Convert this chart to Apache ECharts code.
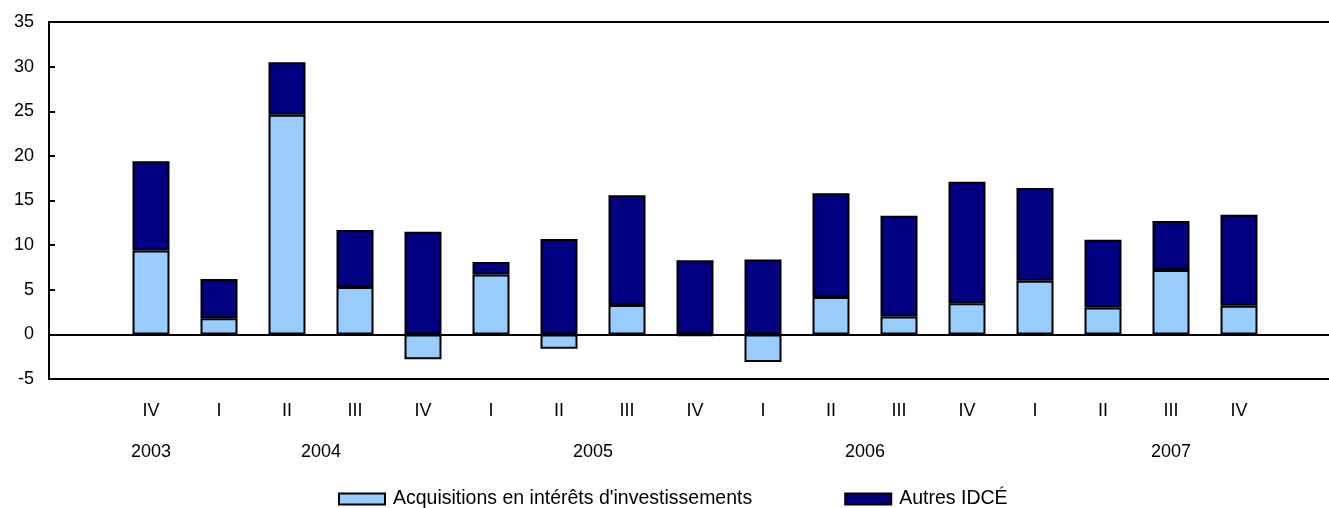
<!DOCTYPE html>
<html>
<head>
<meta charset="utf-8">
<title>IDCÉ</title>
<script src="https://cdn.jsdelivr.net/npm/echarts@6/dist/echarts.min.js"></script>
<style>
  html, body { margin: 0; padding: 0; background: #fff; overflow: hidden; }
  #chart { width: 1329px; height: 508px; }
</style>
</head>
<body>
<div id="chart"></div>
<script>
// empty slot at each end, like the original spreadsheet chart
const quarters = ['', 'IV', 'I', 'II', 'III', 'IV', 'I', 'II', 'III', 'IV', 'I', 'II', 'III', 'IV', 'I', 'II', 'III', 'IV', ''];
const years = ['', '2003', '2004', '2004', '2004', '2004', '2005', '2005', '2005', '2005',
  '2006', '2006', '2006', '2006', '2007', '2007', '2007', '2007', '2007'];
const acquisitions = [null, 9.4, 1.8, 24.6, 5.3, -2.8, 6.7, -1.6, 3.3, -0.2, -3.1, 4.2, 2.0, 3.5, 6.0, 3.0, 7.2, 3.2, null];
const autres = [null, 10.0, 4.4, 5.9, 6.4, 11.5, 1.4, 10.7, 12.3, 8.3, 8.4, 11.6, 11.3, 13.6, 10.4, 7.6, 5.5, 10.2, null];
const seriesNames = ["Acquisitions en intérêts d'investissements", 'Autres IDCÉ'];

const FONT = "'Liberation Sans', Arial, Helvetica, sans-serif";

// centre of each year's group of categories, on a 0..n scale
const yearGroups = [];
years.forEach((y, i) => {
  if (!y) return;
  const last = yearGroups[yearGroups.length - 1];
  if (last && last.year === y) last.to = i;
  else yearGroups.push({ year: y, from: i, to: i });
});
const yearCenters = yearGroups.map(g => (g.from + g.to) / 2 + 0.5);

const myChart = echarts.init(document.getElementById('chart'));

const option = {
  animation: false,
  textStyle: { fontFamily: FONT },
  // plot runs past the right edge of the picture, as in the original
  grid: {
    left: 49,
    top: 22,
    width: 1292,
    height: 357,
    outerBoundsMode: 'none',
    containLabel: false,
  },
  legend: {
    top: 484,
    left: 333,
    itemWidth: 46,
    itemHeight: 11,
    itemGap: 92,
    icon: 'rect',
    textStyle: { fontSize: 19.5, color: '#000', fontFamily: FONT, padding: [0, 0, 0, 3] },
    data: seriesNames,
  },
  xAxis: [
    {
      type: 'category',
      data: quarters,
      position: 'bottom',
      axisLine: { onZero: false, lineStyle: { color: '#000', width: 2 } },
      axisTick: { show: false },
      axisLabel: { color: '#000', fontSize: 18, margin: 23, interval: 0 },
      splitLine: { show: false },
    },
    {
      type: 'value',
      min: 0,
      max: quarters.length,
      position: 'bottom',
      axisLine: { show: false, onZero: false },
      axisTick: { show: false },
      splitLine: { show: false },
      axisLabel: {
        color: '#000',
        fontSize: 18,
        margin: 64,
        showMinLabel: true,
        showMaxLabel: true,
        customValues: yearCenters,
        formatter: value => {
          const k = yearCenters.findIndex(c => Math.abs(c - value) < 0.01);
          return k >= 0 ? yearGroups[k].year : '';
        },
      },
    },
    {
      // top border of the plot
      type: 'category',
      data: quarters,
      position: 'top',
      axisLine: { show: true, onZero: false, lineStyle: { color: '#000', width: 2 } },
      axisTick: { show: false },
      axisLabel: { show: false },
      splitLine: { show: false },
    },
  ],
  yAxis: {
    type: 'value',
    min: -5,
    max: 35,
    interval: 5,
    axisLine: { show: true, onZero: false, lineStyle: { color: '#000', width: 2 } },
    axisTick: { show: true, inside: true, length: 6, lineStyle: { color: '#000', width: 2 } },
    axisLabel: { color: '#000', fontSize: 18, margin: 15 },
    splitLine: { show: false },
  },
  series: [
    {
      name: seriesNames[0],
      type: 'bar',
      stack: 'total',
      barWidth: 37,
      data: acquisitions,
      itemStyle: { color: '#99CCFF', borderColor: '#000', borderWidth: 2 },
      markLine: {
        silent: true,
        symbol: 'none',
        label: { show: false },
        lineStyle: { color: '#000', width: 2, type: 'solid' },
        data: [{ yAxis: 0 }],
      },
    },
    {
      name: seriesNames[1],
      type: 'bar',
      stack: 'total',
      barWidth: 37,
      data: autres,
      itemStyle: { color: '#000080', borderColor: '#000', borderWidth: 2 },
    },
  ],
};

myChart.setOption(option);
window.addEventListener('resize', myChart.resize);
</script>
</body>
</html>
